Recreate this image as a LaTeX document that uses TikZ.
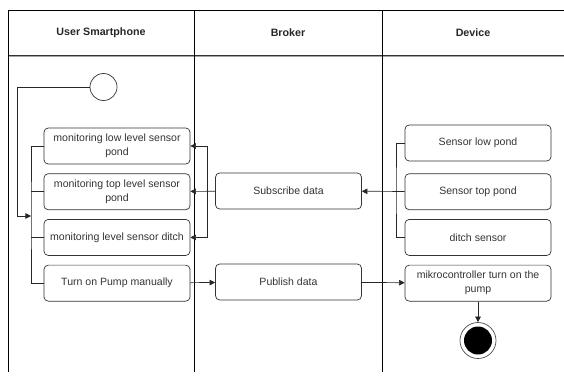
\documentclass[tikz,border=0pt]{standalone}
\usepackage{fontspec}
\setmainfont{Liberation Sans}
\usetikzlibrary{arrows.meta,positioning}

\begin{document}
\begin{tikzpicture}[x=0.025cm,y=-0.025cm,font=\fontsize{7.5}{10}\selectfont,node distance=0.225cm,
lane/.style={draw=black,line width=0.6pt},
hdr/.style={font=\fontsize{7.6}{10}\selectfont\bfseries,text=black!85},
act/.style={draw=black!80,rounded corners=3pt,align=center,text=black!80,minimum width=3.65cm,minimum height=0.9cm,inner sep=1pt,line width=0.5pt},
startnode/.style={draw=black!80,circle,minimum size=0.675cm,inner sep=0pt,line width=0.5pt},
endring/.style={draw=black!70,circle,minimum size=0.9cm,inner sep=0pt,line width=0.5pt},
endcore/.style={fill=black,circle,minimum size=0.7cm,inner sep=0pt},
link/.style={draw=black!85,line width=0.5pt},
arr/.style={link,-{Triangle[length=1.4mm,width=1.4mm]}}]
\useasboundingbox (0,0) rectangle (564,376);
% swimlanes
\draw[lane] (8,10) -- (564,10);
\draw[draw=black!35,line width=0.8pt] (8,56) -- (564,56);
\draw[draw=black!80,line width=0.6pt] (8,55) -- (564,55);
\draw[lane] (8,10) -- (8,372);
\draw[lane] (194,10) -- (194,372);
\draw[lane] (382,10) -- (382,372);
\node[hdr] (hUser) at (101,32.5){User Smartphone};
\node[hdr] (hBroker) at (288,32.5){Broker};
\node[hdr] (hDevice) at (473,32.5){Device};
% user smartphone
\node[startnode] (start) at (103.5,87){};
\node[act] (mlow) at (117,146){monitoring low level sensor\\pond};
\node[act, below=of mlow] (mtop){monitoring top level sensor\\pond};
\node[act, below=of mtop] (mditch){monitoring level sensor ditch};
\node[act, below=of mditch] (mpump){Turn on Pump manually};
% broker
\node[act] (sub) at (288.5,191){Subscribe data};
\node[act] (pub) at (288.5,282){Publish data};
% device
\node[act] (slow) at (478,143){Sensor low pond};
\node[act, below=0.3cm of slow] (stop){Sensor top pond};
\node[act, below=of stop] (sditch){ditch sensor};
\node[act, below=of sditch] (mcu){mikrocontroller turn on the\\pump};
\node[endring] (stopend) at (478,340.5){};
\node[endcore] (stopcore) at (stopend){};
% forks
\coordinate (turnL) at (17,87);
\coordinate (forkL) at (31,216);
\coordinate (forkB) at (207,191);
\coordinate (forkD) at (396,191);
\draw[link] (start) -- (turnL);\draw[arr] (turnL) |- (forkL);
\draw[link] (mlow.west) -| (forkL) |- (mpump.west);\draw[link] (mtop.west) -- (mtop.west -| forkL);\draw[link] (mditch.west) -- (mditch.west -| forkL);
\draw[arr] (sub) -- (mtop);\draw[arr] (forkB) |- (mlow.east);\draw[arr] (forkB) |- (mditch.east);
\draw[link] (slow.west) -| (forkD) |- (sditch.west);\draw[arr] (stop) -- (sub);
\draw[arr] (mpump) -- (pub);\draw[arr] (pub) -- (mcu);\draw[arr] (mcu) -- (stopend);
\end{tikzpicture}
\end{document}
